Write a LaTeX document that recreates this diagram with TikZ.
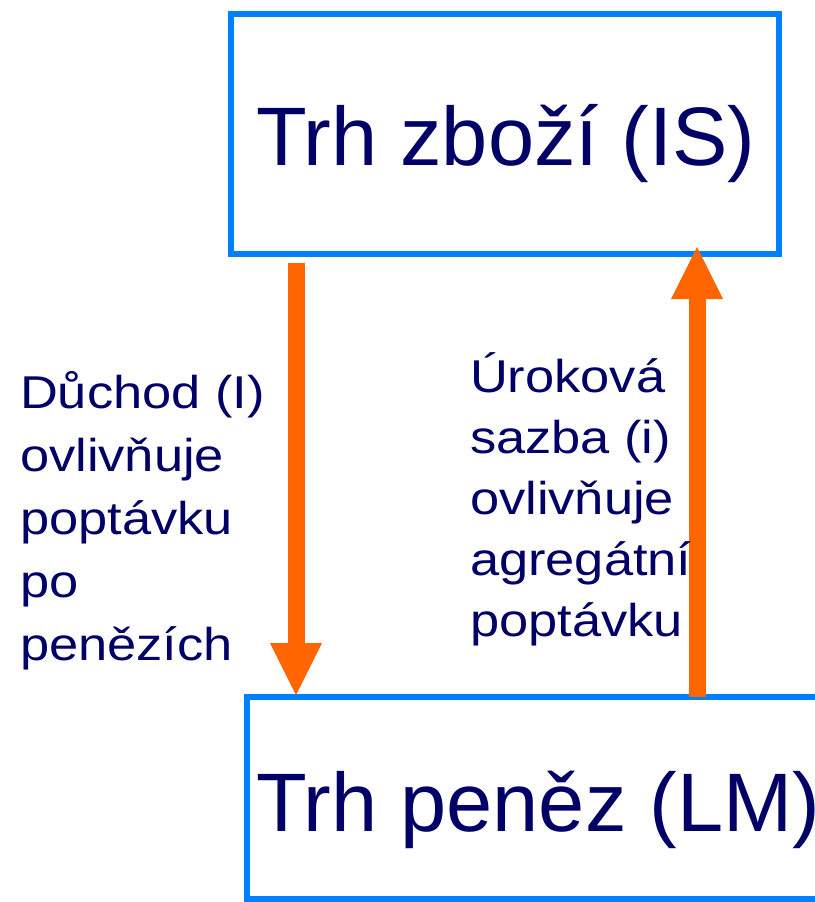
\documentclass[tikz,border=0pt]{standalone}
\usepackage{fontspec}
\setmainfont{Liberation Sans}
\newfontfamily\widesans[FakeStretch=1.14]{Liberation Sans}
\usetikzlibrary{arrows.meta}
\definecolor{boxblue}{HTML}{0080FF}
\definecolor{arrorange}{HTML}{FF6600}
\definecolor{txtnavy}{HTML}{000066}
\begin{document}
\begin{tikzpicture}[x=1pt,y=-1pt,
  mbox/.style={draw=boxblue,line width=6pt,outer sep=0pt,inner sep=0pt},
  bigtext/.style={text=txtnavy,font=\fontsize{83}{100}\selectfont,inner sep=0pt,outer sep=0pt},
  smalltext/.style={text=txtnavy,font=\widesans\fontsize{46}{63}\selectfont,align=left,inner sep=0pt,outer sep=0pt,anchor=base west},
  flow/.style={draw=arrorange,line width=17pt,-{Triangle[width=52pt,length=52pt,line width=0pt]}}]
\useasboundingbox (0,0) rectangle (814,902);
\node[mbox,minimum width=548pt,minimum height=240pt] (is) at (505,134) {};
\node[bigtext,anchor=base west] (ist) at (256,165) {Trh zboží (IS)};
\node[mbox,minimum width=600pt,minimum height=202pt,anchor=north west] (lm) at (247,697) {};
\node[bigtext,anchor=base west] (lmt) at (256,831) {Trh peněz (LM)};
\draw[flow] ([xshift=-209pt,yshift=-9pt]is.south) -- ([xshift=49pt,yshift=2pt]lm.north west);
\draw[flow] ([xshift=450pt]lm.north west) -- ([xshift=192pt,yshift=7pt]is.south);
\node[smalltext] (lt) at (20,660) {Důchod (I)\\ovlivňuje\\poptávku\\po\\penězích};
\node[smalltext,font=\widesans\fontsize{46}{61}\selectfont] (rt) at (470,636) {Úroková\\sazba (i)\\ovlivňuje\\agregátní\\poptávku};
\end{tikzpicture}
\end{document}
